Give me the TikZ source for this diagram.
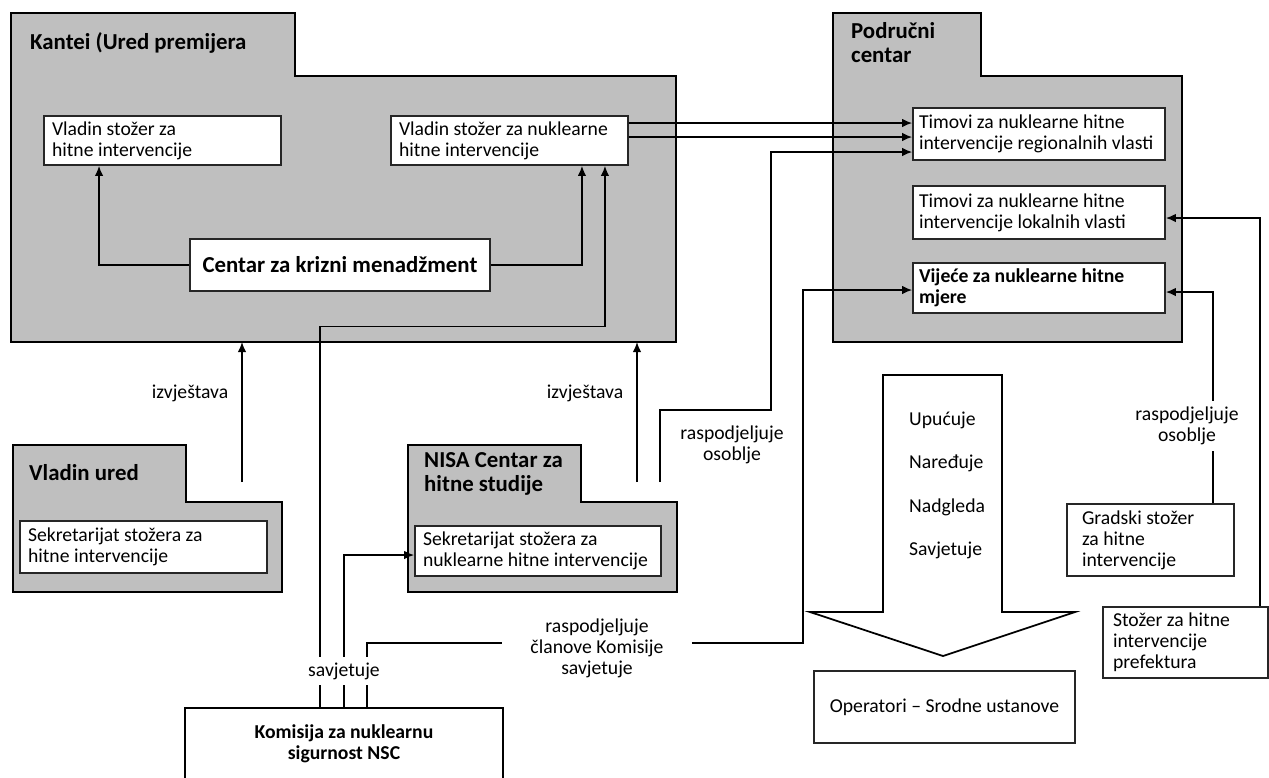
\documentclass[tikz,border=0pt]{standalone}
\usepackage{fontspec}
\setmainfont{Carlito}
\usetikzlibrary{arrows.meta}
\definecolor{foldergrey}{RGB}{191,191,191}
\newcommand{\txt}{\fontsize{11.2}{12}\selectfont}
\newcommand{\ttl}{\fontsize{13}{13.6}\selectfont\bfseries}

\begin{document}
\begin{tikzpicture}[x=0.02cm,y=-0.02cm,
  folder/.style={draw=black,line width=1.6pt,fill=foldergrey},
  box/.style={draw=black!85,line width=1pt,fill=white,font=\txt,align=flush left,inner xsep=0.16cm,inner ysep=0pt},
  lbl/.style={font=\txt,align=center,fill=white,inner sep=1pt},
  conn/.style={line width=0.9pt},
  arr/.style={conn,-{Latex[length=2mm,width=1.7mm]}}]
\useasboundingbox (0,0) rectangle (1269,778);

% folders
\draw[folder] (11,13) -- (295,13) -- (295,76) -- (676,76) -- (676,342) coordinate (kbot) -- (11,342) -- cycle;
\draw[folder] (833,13) -- (981,13) -- (981,76) -- (1182,76) -- (1182,342) -- (833,342) -- cycle;
\draw[folder] (13,445) -- (186,445) -- (186,502) -- (282,502) -- (282,592) -- (13,592) -- cycle;
\draw[folder] (408,445) -- (581,445) -- (581,502) -- (677,502) -- (677,592) -- (408,592) -- cycle;

\node[font=\ttl,anchor=west] (kantei) at (24,43) {Kantei (Ured premijera};
\node[font=\ttl,align=left,anchor=west] (podrucni) at (845,43) {Područni\\centar};
\node[font=\ttl,anchor=west] (vured) at (23,473) {Vladin ured};
\node[font=\ttl,align=left,anchor=west] (nisa) at (418,474) {NISA Centar za\\hitne studije};

% boxes
\node[box,text width=4.42cm,minimum height=0.98cm] (vsh) at (162.5,140.5) {Vladin stožer za\\hitne intervencije};
\node[box,text width=4.42cm,minimum height=0.98cm] (vsn) at (509.5,140.5) {Vladin stožer za nuklearne\\hitne intervencije};
\node[box,font=\ttl,align=center,minimum width=6cm,minimum height=1.04cm] (ckm) at (340,265) {Centar za krizni menadžment};

\node[box,inner xsep=0.12cm,text width=4.8cm,minimum height=1.04cm] (tr) at (1039,134) {Timovi za nuklearne hitne\\intervencije regionalnih vlasti};
\node[box,inner xsep=0.12cm,text width=4.8cm,minimum height=1.06cm] (tl) at (1039,212.5) {Timovi za nuklearne hitne\\intervencije lokalnih vlasti};
\node[box,inner xsep=0.12cm,font=\txt\bfseries,text width=4.8cm,minimum height=1cm] (vnm) at (1039,288) {Vijeće za nuklearne hitne\\mjere};

\node[box,text width=4.62cm,minimum height=1.04cm] (svu) at (143.5,547) {Sekretarijat stožera za\\hitne intervencije};
\node[box,text width=4.6cm,minimum height=1cm] (snh) at (538,551) {Sekretarijat stožera za\\nuklearne hitne intervencije};

\node[box,draw=black,line width=1.6pt,font=\txt\bfseries,align=center,minimum width=6.36cm,minimum height=1.44cm] (nsc) at (344,744) {Komisija za nuklearnu\\sigurnost NSC};
\node[box,align=center,minimum width=5.22cm,minimum height=1.44cm] (op) at (944.5,707) {Operatori – Srodne ustanove};
\node[box,inner xsep=0.3cm,text width=2.74cm,minimum height=1.44cm] (gsh) at (1150.5,540) {Gradski stožer\\za hitne\\intervencije};
\node[box,inner xsep=0.2cm,text width=2.9cm,minimum height=1.42cm] (szp) at (1185.5,642.5) {Stožer za hitne\\intervencije\\prefektura};

% big arrow
\draw[line width=1pt,fill=white] (883,375) -- (1002,375) -- (1002,612) -- (1075,612) -- (943,656) -- (810,612) -- (883,612) -- cycle;
\node[font=\txt,anchor=west] (upucuje) at (903,420) {Upućuje};
\node[font=\txt,anchor=west] (nareduje) at (903,463) {Naređuje};
\node[font=\txt,anchor=west] (nadgleda) at (903,507) {Nadgleda};
\node[font=\txt,anchor=west] (savj) at (903,550) {Savjetuje};

\node[lbl] (izv1) at (190,393) {izvještava};
\node[lbl] (izv2) at (585,393) {izvještava};
\node[lbl] (rso1) at (732,445) {raspodjeljuje\\osoblje};
\node[lbl,fill=none,inner xsep=0.56cm] (rck) at (597,648) {raspodjeljuje\\članove Komisije\\savjetuje};

\coordinate (vu) at (242,482);
\coordinate (n1) at (637,482);
\coordinate (n2) at (660,482);

% connectors
\draw[arr] (ckm.west) -| ([xshift=-1.27cm]vsh.south);
\draw[arr] (ckm.east) -| ([xshift=1.45cm]vsn.south);
\draw[arr] ([yshift=0.35cm]vsn.east) -- ([yshift=0.22cm]tr.west);
\draw[arr] ([yshift=0.07cm]vsn.east) -- ([yshift=-0.06cm]tr.west);
\draw[arr] (n2) |- (771,410) |- ([yshift=-0.36cm]tr.west);
\draw[arr] (vu) -- (vu |- kbot);
\draw[arr] (n1) -- (n1 |- kbot);

\draw[arr] ([xshift=-0.48cm]nsc.north) -- ++(0,-380) -| ([xshift=1.91cm]vsn.south);
\draw[arr] (nsc.north) |- ([yshift=-0.08cm]snh.west);
\draw[conn] ([xshift=0.46cm]nsc.north) |- ([yshift=0.1cm]rck.west);
\draw[arr] ([yshift=0.1cm]rck.east) -- ++(111,0) |- ([yshift=-0.04cm]vnm.west);

\draw[arr] ([xshift=1.25cm]gsh.north) |- ([yshift=-0.08cm]vnm.east);
\draw[arr] ([xshift=1.49cm]szp.north) |- ([yshift=-0.11cm]tl.east);

\node[lbl,inner ysep=0.12cm] (sav) at (344,671) {savjetuje};
\node[lbl,inner ysep=0.12cm] (rso2) at (1187,426) {raspodjeljuje\\osoblje};
\end{tikzpicture}
\end{document}
